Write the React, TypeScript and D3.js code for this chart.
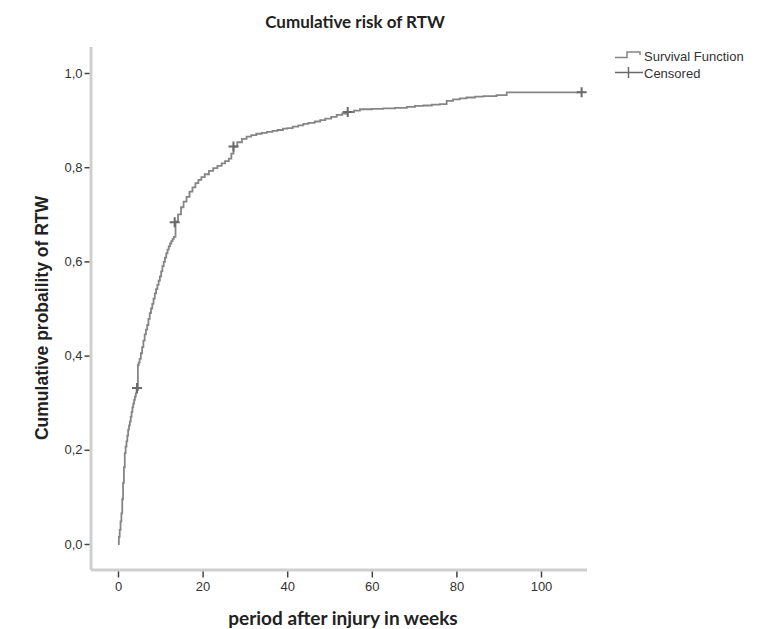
import React, { useEffect, useRef } from "react";
import * as d3 from "d3";

const WIDTH = 757;
const HEIGHT = 629;

// Kaplan-Meier style step curve (weeks, cumulative probability)
const weeks = [
  0, 0.2, 0.4, 0.6, 0.8, 1.0, 1.2, 1.4, 1.6, 1.8, 2.0, 2.2, 2.4, 2.6, 2.8, 3.0,
  3.2, 3.4, 3.6, 3.8, 4.0, 4.2, 4.4, 4.7, 4.9, 5.1, 5.4, 5.7, 6.0, 6.3, 6.6, 6.9,
  7.2, 7.5, 7.8, 8.1, 8.4, 8.7, 9.0, 9.3, 9.6, 9.9, 10.2, 10.5, 10.8, 11.1,
  11.4, 11.7, 12.0, 12.3, 12.6, 12.9, 13.2, 13.6, 14.2, 14.9, 15.5, 16.2, 16.9,
  17.6, 18.3, 19.0, 19.7, 20.5, 21.5, 22.5, 23.5, 24.5, 25.3, 26.2, 26.8, 27.3,
  28.2, 29.3, 30.4, 31.5, 32.7, 34.0, 35.2, 36.5, 37.7, 39.0, 40.0, 41.3, 42.6,
  43.8, 45.0, 46.5, 47.8, 49.0, 50.4, 51.7, 53.0, 54.3, 55.8, 57.2, 60.0, 62.7,
  65.5, 68.3, 70.2, 72.2, 74.2, 76.1, 77.7, 79.2, 80.8, 82.4, 84.4, 86.4, 89.5,
  91.9, 109.6,
];
const cumProb = [
  0, 0.015, 0.03, 0.048, 0.065, 0.095, 0.13, 0.163, 0.193, 0.207, 0.218, 0.23,
  0.243, 0.252, 0.26, 0.27, 0.28, 0.29, 0.298, 0.306, 0.313, 0.32, 0.327, 0.38,
  0.385, 0.393, 0.405, 0.418, 0.432, 0.445, 0.455, 0.465, 0.478, 0.49, 0.5,
  0.51, 0.521, 0.532, 0.541, 0.55, 0.559, 0.568, 0.579, 0.59, 0.599, 0.608,
  0.617, 0.625, 0.632, 0.638, 0.643, 0.648, 0.652, 0.685, 0.7, 0.715, 0.727,
  0.737, 0.748, 0.757, 0.766, 0.773, 0.779, 0.785, 0.792, 0.798, 0.803, 0.808,
  0.813, 0.818, 0.829, 0.844, 0.853, 0.86, 0.865, 0.868, 0.871, 0.873, 0.875,
  0.877, 0.879, 0.882, 0.883, 0.886, 0.889, 0.892, 0.894, 0.897, 0.9, 0.903,
  0.907, 0.911, 0.914, 0.917, 0.92, 0.923, 0.924, 0.925, 0.926, 0.928, 0.93,
  0.931, 0.933, 0.934, 0.941, 0.944, 0.946, 0.948, 0.95, 0.951, 0.953, 0.959,
  0.959,
];

// censored observations
const censoredWeeks = [4.5, 13.4, 27.3, 54.3, 109.6];
const censoredProb = [0.331, 0.683, 0.844, 0.917, 0.959];

const xTicks = [0, 20, 40, 60, 80, 100];
const yTicks = [0, 0.2, 0.4, 0.6, 0.8, 1.0];

const LINE_COLOR = "#858585";
const MARK_COLOR = "#6a6a6a";
const AXIS_COLOR = "#cfcfcf";
const TEXT_COLOR = "#333";

export default function App() {
  const ref = useRef<SVGSVGElement>(null);

  useEffect(() => {
    document.body.style.margin = "0";
    const svg = d3.select(ref.current);
    svg.selectAll("*").remove();

    const plot = { left: 91, right: 587, top: 47, bottom: 570 };

    // x: 0 -> 118px, 100 -> 541px ; y: 0 -> 544px, 1 -> 73px
    const x = d3
      .scaleLinear()
      .domain([(plot.left - 118) / 4.23, (plot.right - 118) / 4.23])
      .range([plot.left, plot.right]);
    const y = d3
      .scaleLinear()
      .domain([(544 - plot.bottom) / 471, (544 - plot.top) / 471])
      .range([plot.bottom, plot.top]);

    // title
    svg
      .append("text")
      .attr("x", 355)
      .attr("y", 28)
      .attr("text-anchor", "middle")
      .attr("font-family", "Lato")
      .attr("font-weight", "bold")
      .attr("font-size", 17)
      .attr("fill", "#222")
      .text("Cumulative risk of RTW");

    // axis lines
    svg
      .append("line")
      .attr("x1", plot.left)
      .attr("x2", plot.left)
      .attr("y1", plot.top)
      .attr("y2", plot.bottom)
      .attr("stroke", AXIS_COLOR)
      .attr("stroke-width", 3);
    svg
      .append("line")
      .attr("x1", plot.left)
      .attr("x2", plot.right)
      .attr("y1", plot.bottom)
      .attr("y2", plot.bottom)
      .attr("stroke", AXIS_COLOR)
      .attr("stroke-width", 3);

    // y axis
    const yAxis = svg
      .append("g")
      .attr("transform", `translate(${plot.left - 1.5},0)`)
      .call(
        d3
          .axisLeft(y)
          .tickValues(yTicks)
          .tickSize(5)
          .tickPadding(2)
          .tickFormat((d) => (d as number).toFixed(1).replace(".", ","))
      );
    yAxis.select(".domain").remove();
    yAxis.selectAll(".tick line").attr("stroke", "#444").attr("stroke-width", 1.5);
    yAxis
      .selectAll(".tick text")
      .attr("font-family", "Liberation Sans, Arial")
      .attr("font-size", 13)
      .attr("fill", TEXT_COLOR);

    // x axis
    const xAxis = svg
      .append("g")
      .attr("transform", `translate(0,${plot.bottom + 1.5})`)
      .call(d3.axisBottom(x).tickValues(xTicks).tickSize(6).tickPadding(4));
    xAxis.select(".domain").remove();
    xAxis.selectAll(".tick line").attr("stroke", "#444").attr("stroke-width", 1.5);
    xAxis
      .selectAll(".tick text")
      .attr("font-family", "Liberation Sans, Arial")
      .attr("font-size", 13)
      .attr("fill", TEXT_COLOR);

    // axis titles
    svg
      .append("text")
      .attr("x", 343)
      .attr("y", 625)
      .attr("text-anchor", "middle")
      .attr("font-family", "Lato")
      .attr("font-weight", "bold")
      .attr("font-size", 19)
      .attr("fill", "#222")
      .text("period after injury in weeks");
    svg
      .append("text")
      .attr("transform", "translate(48,318) rotate(-90)")
      .attr("text-anchor", "middle")
      .attr("font-family", "Liberation Sans, Arial")
      .attr("font-weight", "bold")
      .attr("font-size", 17.5)
      .attr("fill", "#222")
      .text("Cumulative probaility of RTW");

    // survival step curve
    const points = weeks.map((w, i) => [w, cumProb[i]] as [number, number]);
    const line = d3
      .line<[number, number]>()
      .x((d) => x(d[0]))
      .y((d) => y(d[1]))
      .curve(d3.curveStepAfter);
    svg
      .append("path")
      .datum(points)
      .attr("fill", "none")
      .attr("stroke", LINE_COLOR)
      .attr("stroke-width", 1.8)
      .attr("d", line);

    // censored marks
    const cross = (g: any, cx: number, cy: number, s: number) => {
      g.append("path")
        .attr("d", `M${cx - s},${cy}H${cx + s}M${cx},${cy - s}V${cy + s}`)
        .attr("stroke", MARK_COLOR)
        .attr("stroke-width", 2)
        .attr("fill", "none");
    };
    censoredWeeks.forEach((w, i) => cross(svg, x(w), y(censoredProb[i]), 5));

    // legend
    const lg = svg.append("g");
    lg.append("path")
      .attr("d", "M615,57.5H627V52H640V55")
      .attr("fill", "none")
      .attr("stroke", LINE_COLOR)
      .attr("stroke-width", 1.5);
    lg.append("path")
      .attr("d", "M615,72.5H643M628.5,67V78")
      .attr("fill", "none")
      .attr("stroke", MARK_COLOR)
      .attr("stroke-width", 1.5);
    lg.append("text")
      .attr("x", 644)
      .attr("y", 61)
      .attr("font-family", "Liberation Sans, Arial")
      .attr("font-size", 13)
      .attr("fill", TEXT_COLOR)
      .text("Survival Function");
    lg.append("text")
      .attr("x", 644)
      .attr("y", 77.5)
      .attr("font-family", "Liberation Sans, Arial")
      .attr("font-size", 13)
      .attr("fill", TEXT_COLOR)
      .text("Censored");
  }, []);

  return <svg ref={ref} width={WIDTH} height={HEIGHT} style={{ display: "block" }} />;
}
